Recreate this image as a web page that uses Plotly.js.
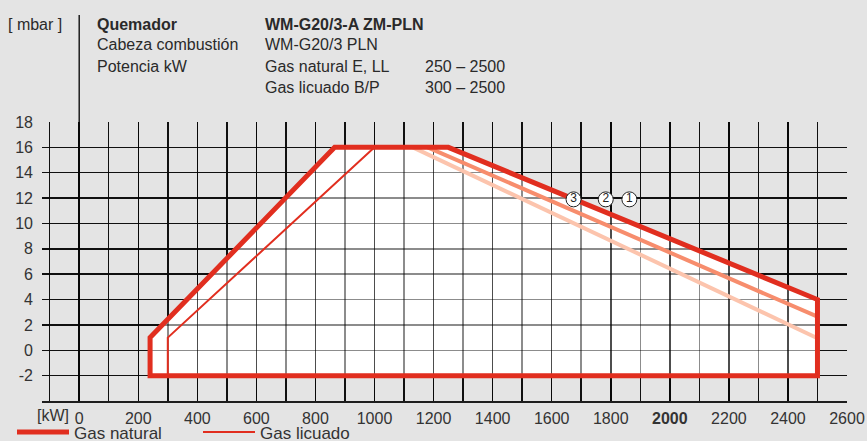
<!DOCTYPE html>
<html>
<head>
<meta charset="utf-8">
<script src="https://cdn.plot.ly/plotly-3.0.1.min.js"></script>
<style>
  html, body { margin: 0; padding: 0; background: #e4e4e4; }
  #chart { width: 867px; height: 441px; }
</style>
</head>
<body>
<div id="chart"></div>
<script>
// ---- data ----
// outer operating field: natural gas
const naturalX = [240, 240, 865, 1250, 2500, 2500, 240, 240];
const naturalY = [-2, 1, 16, 16, 4, -2, -2, 1];
// liquefied gas field
const lpgX = [300, 300, 1000, 1250, 2500, 2500, 300];
const lpgY = [-2, 1, 16, 16, 4, -2, -2];
// reduced curves (2) and (3)
const curve2X = [1180, 2500];
const curve2Y = [16, 2.65];
const curve3X = [1130, 2500];
const curve3Y = [16, 0.95];
// circled curve markers
const markerX = [1674, 1783, 1863];
const markerY = [11.9, 11.9, 11.9];
const markerText = ['3', '2', '1'];
// axes
const xTickVals = [0, 200, 400, 600, 800, 1000, 1200, 1400, 1600, 1800, 2000, 2200, 2400, 2600];
const xTickText = ['0', '200', '400', '600', '800', '1000', '1200', '1400', '1600', '1800', '<b>2000</b>', '2200', '2400', '2600'];
const yTickVals = [-4, -2, 0, 2, 4, 6, 8, 10, 12, 14, 16, 18];
const yTickText = ['', '-2', '0', '2', '4', '6', '8', '10', '12', '14', '16', '18'];
const legendNames = ['Gas natural', 'Gas licuado'];
// header texts
const headerCol1 = ['<b>Quemador</b>', 'Cabeza combustión', 'Potencia kW'];
const headerCol2 = ['<b>WM-G20/3-A ZM-PLN</b>', 'WM-G20/3 PLN', 'Gas natural E, LL', 'Gas licuado B/P'];
const headerCol3 = ['250 – 2500', '300 – 2500'];
const unitY = '[ mbar ]';
const unitX = '[kW]';

// ---- styling ----
const FONT = '"Liberation Sans", Arial, Helvetica, sans-serif';
const BG = '#e4e4e4';
const RED = '#e12e1f';
const W = 867, H = 441;
const M = {l: 42, r: 20, t: 122, b: 40};
const plotW = W - M.l - M.r, plotH = H - M.t - M.b;
const px = v => (v - M.l) / plotW;
const py = v => (H - M.b - v) / plotH;

const xRange = [-126, 2600];
const yRange = [-4, 18];

const traces = [
  // white field (below the translucent grid)
  {x: naturalX, y: naturalY, xaxis: 'x', yaxis: 'y', type: 'scatter', mode: 'lines',
   fill: 'toself', fillcolor: '#ffffff', line: {width: 0, color: '#ffffff'}, showlegend: false, hoverinfo: 'skip'},
  // outlines (above the translucent grid)
  {x: lpgX, y: lpgY, xaxis: 'x2', yaxis: 'y2', type: 'scatter', mode: 'lines', name: legendNames[1],
   line: {color: RED, width: 2}, legendrank: 2},
  {x: curve3X, y: curve3Y, xaxis: 'x2', yaxis: 'y2', type: 'scatter', mode: 'lines',
   line: {color: '#fcc4ad', width: 4}, showlegend: false},
  {x: curve2X, y: curve2Y, xaxis: 'x2', yaxis: 'y2', type: 'scatter', mode: 'lines',
   line: {color: '#f78d6d', width: 4}, showlegend: false},
  {x: naturalX, y: naturalY, xaxis: 'x2', yaxis: 'y2', type: 'scatter', mode: 'lines', name: legendNames[0],
   line: {color: RED, width: 5}, legendrank: 1},
  {x: markerX, y: markerY, xaxis: 'x2', yaxis: 'y2', type: 'scatter', mode: 'markers+text',
   text: markerText, textposition: 'middle center',
   textfont: {family: FONT, size: 12, color: '#222'},
   marker: {size: 15, color: '#ffffff', line: {color: '#222', width: 1}},
   showlegend: false, hoverinfo: 'skip'}
];

const baseAxis = {
  showline: false, zeroline: false, ticks: '', fixedrange: true,
  tickfont: {family: FONT, size: 16, color: '#333'}
};

const annotations = [];
const ann = (text, xp, yc) => annotations.push({
  text: text, xref: 'paper', yref: 'paper', x: px(xp), y: py(yc),
  xanchor: 'left', yanchor: 'middle', showarrow: false,
  font: {family: FONT, size: 16, color: '#2a2a2a'}
});
ann(unitY, 6, 24);
headerCol1.forEach((t, i) => ann(t, 95, 24 + 21 * i));
headerCol2.forEach((t, i) => ann(t, 263, 24 + 21 * i));
headerCol3.forEach((t, i) => ann(t, 423, 66 + 21 * i));
annotations.push({
  text: unitX, xref: 'paper', yref: 'paper', x: px(71), y: py(415),
  xanchor: 'right', yanchor: 'middle', showarrow: false,
  font: {family: FONT, size: 16, color: '#333'}
});

const layout = {
  width: W, height: H,
  margin: M,
  paper_bgcolor: BG, plot_bgcolor: 'rgba(0,0,0,0)',
  font: {family: FONT, size: 16, color: '#333'},
  showlegend: true,
  legend: {
    orientation: 'h', xref: 'container', yref: 'container',
    x: 12 / W, y: 0.06, xanchor: 'left', yanchor: 'top',
    bgcolor: 'rgba(0,0,0,0)', borderwidth: 0,
    font: {family: FONT, size: 17, color: '#333'},
    itemwidth: 52, traceorder: 'normal',
    entrywidth: 119, entrywidthmode: 'pixels'
  },
  xaxis: Object.assign({}, baseAxis, {
    domain: [0, 1], anchor: 'y', range: xRange,
    tickmode: 'array', tickvals: xTickVals, ticktext: xTickText,
    showgrid: true, gridcolor: '#1e1e1e', gridwidth: 1.5,
    minor: {dtick: 100, tick0: 0, showgrid: true, gridcolor: '#1e1e1e', gridwidth: 1.5},
    showline: true, linecolor: '#1e1e1e', linewidth: 1.5,
    ticklabelstandoff: 2
  }),
  yaxis: Object.assign({}, baseAxis, {
    domain: [0, 1], anchor: 'x', range: yRange,
    tickmode: 'array', tickvals: yTickVals, ticktext: yTickText,
    showgrid: true, gridcolor: '#1e1e1e', gridwidth: 1.5,
    ticklabelstandoff: 8
  }),
  xaxis2: Object.assign({}, baseAxis, {
    domain: [0, 1], anchor: 'y2', range: xRange, showticklabels: false,
    tickmode: 'array', tickvals: xTickVals,
    showgrid: true, gridcolor: 'rgba(0,0,0,0.45)', gridwidth: 1.5,
    minor: {dtick: 100, tick0: 0, showgrid: true, gridcolor: 'rgba(0,0,0,0.45)', gridwidth: 1.5}
  }),
  yaxis2: Object.assign({}, baseAxis, {
    domain: [0, 1], anchor: 'x2', range: yRange, showticklabels: false,
    tickmode: 'array', tickvals: yTickVals,
    showgrid: true, gridcolor: 'rgba(0,0,0,0.45)', gridwidth: 1.5
  }),
  shapes: [{
    type: 'line', xref: 'x', yref: 'paper', x0: 0, x1: 0, y0: 1, y1: py(15),
    line: {color: '#1e1e1e', width: 1.5}, layer: 'above'
  }],
  annotations: annotations
};

Plotly.newPlot('chart', traces, layout, {displayModeBar: false, staticPlot: true});
</script>
</body>
</html>
